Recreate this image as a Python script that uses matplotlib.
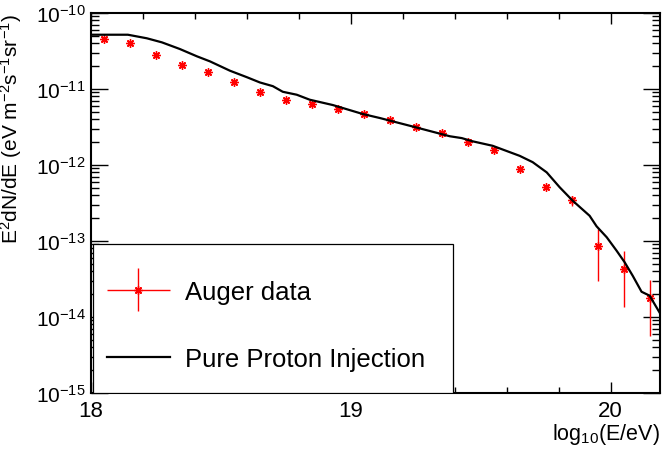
import numpy as np
import matplotlib
matplotlib.use("Agg")
import matplotlib.pyplot as plt
from matplotlib.patches import Rectangle
from matplotlib.legend_handler import HandlerErrorbar
from matplotlib.container import ErrorbarContainer
from matplotlib.ticker import LogLocator, MultipleLocator, FixedLocator

plt.rcParams['font.family'] = ['Liberation Sans', 'DejaVu Sans']
plt.rcParams['mathtext.fontset'] = 'custom'
plt.rcParams['mathtext.rm'] = 'Liberation Sans'
plt.rcParams['mathtext.it'] = 'Liberation Sans'
plt.rcParams['mathtext.sf'] = 'Liberation Sans'

# Auger data, log10(E/eV) and E^2 dN/dE
auger_logE = [18.05, 18.15, 18.25, 18.35, 18.45, 18.55, 18.65, 18.75, 18.85, 18.95, 19.05,
              19.15, 19.25, 19.35, 19.45, 19.55, 19.65, 19.75, 19.85, 19.95, 20.05, 20.15]
auger_flux = [4.6e-11, 3.99e-11, 2.80e-11, 2.05e-11, 1.68e-11, 1.23e-11, 9.14e-12, 7.23e-12,
              6.29e-12, 5.41e-12, 4.69e-12, 3.94e-12, 3.16e-12, 2.61e-12, 1.99e-12, 1.59e-12,
              8.77e-13, 5.14e-13, 3.44e-13, 8.6e-14, 4.32e-14, 1.78e-14]
auger_err_lo = [0.5e-12, 0.3e-12, 0.2e-12, 0.15e-12, 0.1e-12, 0.08e-12, 0.06e-12, 0.05e-12,
                0.05e-12, 0.04e-12, 0.04e-12, 0.04e-12, 0.04e-12, 0.04e-12, 0.04e-12, 0.05e-12,
                3e-14, 3e-14, 5.8e-14, 5.6e-14, 2.95e-14, 1.22e-14]
auger_err_hi = [0.5e-12, 0.3e-12, 0.2e-12, 0.15e-12, 0.1e-12, 0.08e-12, 0.06e-12, 0.05e-12,
                0.05e-12, 0.04e-12, 0.04e-12, 0.04e-12, 0.04e-12, 0.04e-12, 0.04e-12, 0.05e-12,
                3e-14, 3e-14, 5.1e-14, 5.8e-14, 2.98e-14, 1.29e-14]

# pure proton injection model
model_logE = [18.008, 18.142, 18.215, 18.273, 18.342, 18.408, 18.458, 18.535, 18.600, 18.650,
              18.700, 18.738, 18.792, 18.842, 18.931, 19.046, 19.112, 19.246, 19.381, 19.427,
              19.469, 19.546, 19.650, 19.700, 19.754, 19.804, 19.854, 19.919, 19.946, 19.985,
              20.023, 20.054, 20.085, 20.119, 20.150, 20.188]
model_flux = [5.18e-11, 5.18e-11, 4.65e-11, 4.11e-11, 3.36e-11, 2.69e-11, 2.31e-11, 1.74e-11,
              1.43e-11, 1.22e-11, 1.09e-11, 9.2e-12, 8.41e-12, 7.23e-12, 6.15e-12, 4.69e-12,
              4.15e-12, 3.16e-12, 2.39e-12, 2.26e-12, 2.05e-12, 1.79e-12, 1.32e-12, 1.09e-12,
              8.0e-13, 5.09e-13, 3.39e-13, 2.15e-13, 1.56e-13, 1.12e-13, 7.45e-14, 5.25e-14,
              3.49e-14, 2.15e-14, 1.91e-14, 1.15e-14]

y_ticks = [1e-15, 1e-14, 1e-13, 1e-12, 1e-11, 1e-10]
y_ticklabels = [r'$10^{-15}$', r'$10^{-14}$', r'$10^{-13}$', r'$10^{-12}$', r'$10^{-11}$', r'$10^{-10}$']
x_ticks = [18, 19, 20]

fig = plt.figure(figsize=(6.67, 4.52), dpi=100)
ax = fig.add_axes([0.1364, 0.1283, 0.8531, 0.8407])

data = ax.errorbar(auger_logE, auger_flux, yerr=[auger_err_lo, auger_err_hi],
                   xerr=np.zeros(len(auger_logE)), linestyle='none', marker=(8, 2, 0),
                   markersize=6, markeredgewidth=1.0, color='red', ecolor='red',
                   elinewidth=1.0, label='Auger data', zorder=3)
model, = ax.plot(model_logE, model_flux, color='black', linewidth=1.6,
                 label='Pure Proton Injection', zorder=5)

ax.set_yscale('log')
ax.set_xlim(18, 20.19)
ax.set_ylim(1e-15, 1e-10)

ax.yaxis.set_major_locator(FixedLocator(y_ticks))
ax.set_yticklabels(y_ticklabels)
ax.yaxis.set_minor_locator(LogLocator(base=10, subs=np.arange(2, 10), numticks=20))
ax.yaxis.set_minor_formatter(plt.NullFormatter())
ax.xaxis.set_major_locator(FixedLocator(x_ticks))
ax.xaxis.set_minor_locator(MultipleLocator(0.2))

ax.tick_params(which='both', direction='in', top=True, right=True, width=1.0)
ax.tick_params(axis='y', which='major', length=12, pad=4, labelsize=15)
ax.tick_params(axis='y', which='minor', length=6)
ax.tick_params(axis='x', which='major', length=8, pad=5, labelsize=16)
ax.tick_params(axis='x', which='minor', length=4)
for s in ax.spines.values():
    s.set_linewidth(1.5)

ax.set_xlabel(r'$\mathregular{log_{10}(E/eV)}$', fontsize=15.5, loc='right', labelpad=0)
ax.set_ylabel(r'$\mathregular{E^{2}dN/dE\ (eV\ m^{-2}s^{-1}sr^{-1})}$', fontsize=15, loc='top', labelpad=8)

# legend box
ax.add_patch(Rectangle((0.0035, 0.0), 0.632, 0.392, transform=ax.transAxes,
                       facecolor='white', edgecolor='black', linewidth=0.9, zorder=6))
leg = ax.legend([data, model], ['Auger data', 'Pure Proton Injection'],
                loc='center left', bbox_to_anchor=(0.028, 0.178), borderpad=0, borderaxespad=0,
                frameon=False, fontsize=18.5, handlelength=2.45, handletextpad=0.58, labelspacing=1.7,
                handler_map={ErrorbarContainer: HandlerErrorbar(xerr_size=1.23, yerr_size=0.82)})
leg.set_zorder(7)

fig.savefig('out.png', dpi=100)
